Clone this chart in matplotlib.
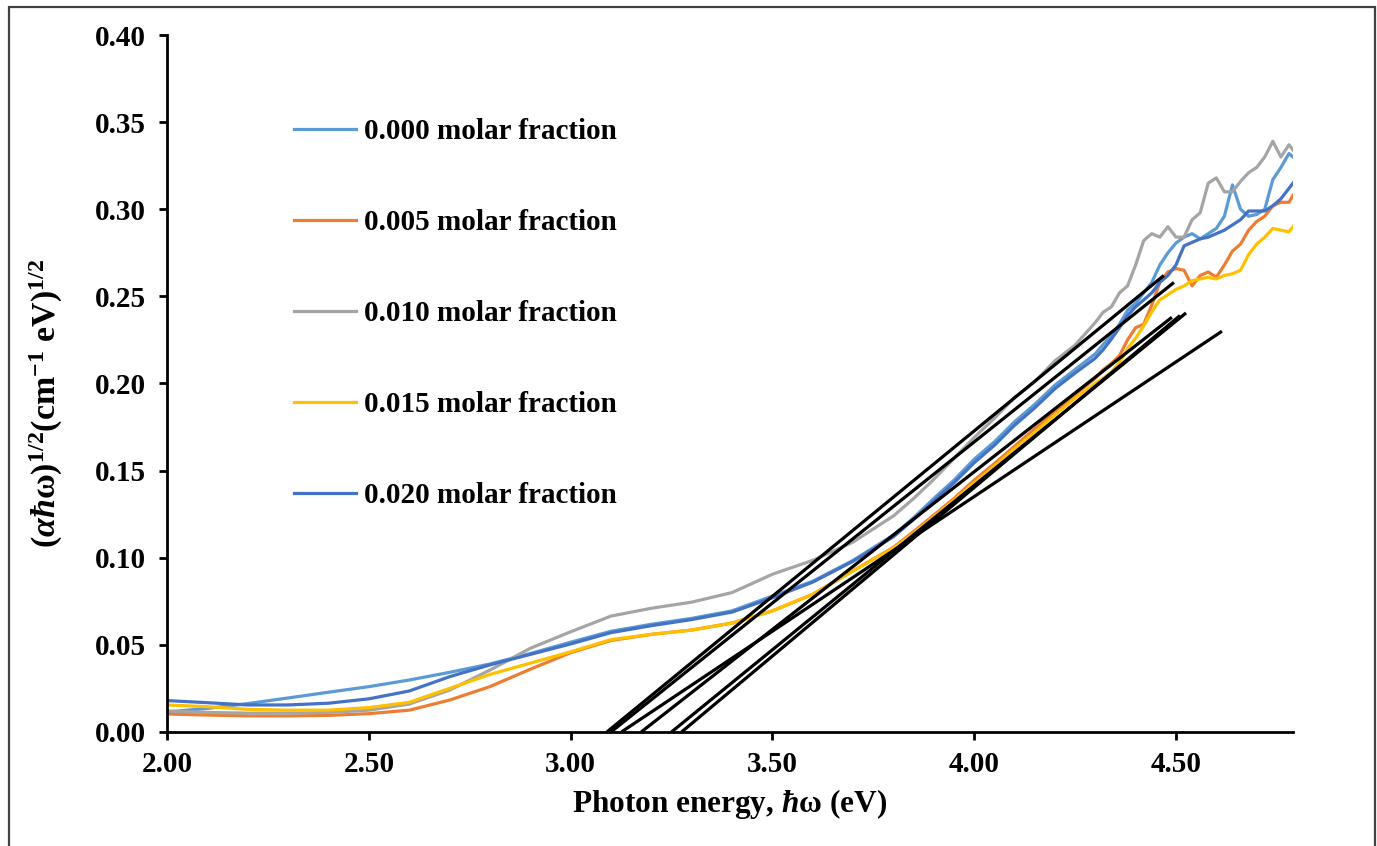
import numpy as np
import matplotlib
matplotlib.use("Agg")
import matplotlib.pyplot as plt
from matplotlib.patches import Rectangle

plt.rcParams['font.family'] = ['Liberation Serif', 'DejaVu Serif']
plt.rcParams['font.weight'] = 'bold'
plt.rcParams['mathtext.fontset'] = 'custom'
plt.rcParams['mathtext.rm'] = 'Liberation Serif:bold'
plt.rcParams['mathtext.it'] = 'Liberation Serif:italic:bold'
plt.rcParams['mathtext.bf'] = 'Liberation Serif:bold'

# photon energy (eV)
energia = [2.00, 2.10, 2.20, 2.30, 2.40, 2.50, 2.60, 2.70, 2.80, 2.90,
           3.00, 3.10, 3.20, 3.30, 3.40, 3.50, 3.60, 3.70, 3.80,
           3.85, 3.90, 3.95, 4.00, 4.05, 4.10, 4.15, 4.20, 4.25, 4.30,
           4.32, 4.34, 4.36, 4.38, 4.40, 4.42, 4.44, 4.46, 4.48, 4.50,
           4.52, 4.54, 4.56, 4.58, 4.60, 4.62, 4.64, 4.66, 4.68, 4.70,
           4.72, 4.74, 4.76, 4.78, 4.79]

# (alpha*hw)^1/2 for each molar fraction
m000 = [0.0115, 0.0135, 0.0163, 0.0195, 0.0228, 0.0260, 0.0298, 0.0342, 0.0390, 0.0450,
        0.0515, 0.0578, 0.0618, 0.0652, 0.0695, 0.0780, 0.0865, 0.0985, 0.1130,
        0.1230, 0.1340, 0.1445, 0.1565, 0.1665, 0.1780, 0.1880, 0.1990, 0.2080, 0.2170,
        0.2225, 0.2275, 0.2340, 0.2420, 0.2460, 0.2520, 0.2580, 0.2680, 0.2750, 0.2806,
        0.2840, 0.2860, 0.2830, 0.2860, 0.2890, 0.2960, 0.3140, 0.3000, 0.2960, 0.2970,
        0.3000, 0.3170, 0.3240, 0.3320, 0.3300]
m005 = [0.0103, 0.0097, 0.0092, 0.0092, 0.0095, 0.0105, 0.0125, 0.0183, 0.0260, 0.0360,
        0.0455, 0.0525, 0.0560, 0.0585, 0.0625, 0.0695, 0.0790, 0.0925, 0.1060,
        0.1150, 0.1245, 0.1340, 0.1445, 0.1540, 0.1640, 0.1740, 0.1840, 0.1935, 0.2030,
        0.2080, 0.2115, 0.2160, 0.2250, 0.2320, 0.2340, 0.2450, 0.2580, 0.2640, 0.2660,
        0.2650, 0.2560, 0.2620, 0.2640, 0.2610, 0.2680, 0.2760, 0.2800, 0.2880, 0.2930,
        0.2960, 0.3020, 0.3040, 0.3040, 0.3080]
m010 = [0.0120, 0.0112, 0.0108, 0.0108, 0.0112, 0.0125, 0.0160, 0.0240, 0.0355, 0.0480,
        0.0575, 0.0665, 0.0710, 0.0745, 0.0800, 0.0905, 0.0985, 0.1090, 0.1240,
        0.1340, 0.1450, 0.1570, 0.1690, 0.1800, 0.1920, 0.2010, 0.2130, 0.2220, 0.2350,
        0.2410, 0.2440, 0.2520, 0.2560, 0.2680, 0.2820, 0.2860, 0.2840, 0.2900, 0.2840,
        0.2840, 0.2940, 0.2980, 0.3150, 0.3180, 0.3100, 0.3100, 0.3160, 0.3210, 0.3240,
        0.3300, 0.3390, 0.3300, 0.3370, 0.3340]
m015 = [0.0155, 0.0145, 0.0130, 0.0125, 0.0125, 0.0140, 0.0170, 0.0250, 0.0330, 0.0395,
        0.0460, 0.0530, 0.0560, 0.0585, 0.0625, 0.0695, 0.0790, 0.0925, 0.1055,
        0.1140, 0.1235, 0.1330, 0.1430, 0.1525, 0.1625, 0.1720, 0.1820, 0.1915, 0.2000,
        0.2030, 0.2065, 0.2120, 0.2200, 0.2260, 0.2330, 0.2410, 0.2480, 0.2510, 0.2540,
        0.2560, 0.2590, 0.2600, 0.2610, 0.2600, 0.2620, 0.2630, 0.2650, 0.2740, 0.2800,
        0.2840, 0.2890, 0.2880, 0.2870, 0.2900]
m020 = [0.0180, 0.0168, 0.0155, 0.0155, 0.0165, 0.0190, 0.0235, 0.0317, 0.0385, 0.0445,
        0.0505, 0.0570, 0.0610, 0.0645, 0.0688, 0.0770, 0.0860, 0.0980, 0.1120,
        0.1220, 0.1325, 0.1430, 0.1545, 0.1645, 0.1760, 0.1860, 0.1970, 0.2060, 0.2145,
        0.2195, 0.2255, 0.2320, 0.2390, 0.2440, 0.2480, 0.2520, 0.2580, 0.2620, 0.2680,
        0.2790, 0.2810, 0.2830, 0.2840, 0.2860, 0.2880, 0.2910, 0.2940, 0.2990, 0.2990,
        0.2990, 0.3020, 0.3060, 0.3120, 0.3150]

etiquetas = ["0.000 molar fraction", "0.005 molar fraction", "0.010 molar fraction",
             "0.015 molar fraction", "0.020 molar fraction"]
colores = ["#5B9BD5", "#ED7D31", "#A5A5A5", "#FFC000", "#4472C4"]

# linear fits: start on the energy axis (Eg), end point of each segment
recta_eg = [3.09, 3.10, 3.126, 3.175, 3.25, 3.275]
recta_x_fin = [4.47, 4.495, 4.614, 4.49, 4.525, 4.51]
recta_y_fin = [0.262, 0.258, 0.230, 0.238, 0.2405, 0.239]

fig = plt.figure(figsize=(13.77, 8.46), dpi=100)
ax = fig.add_axes([0.1213, 0.1348, 0.939 - 0.1213, 0.9586 - 0.1348])

for serie, etiqueta, color in zip([m000, m005, m010, m015, m020], etiquetas, colores):
    ax.plot(energia, serie, color=color, lw=2.3, label=etiqueta, solid_joinstyle='round')

for eg, xf, yf in zip(recta_eg, recta_x_fin, recta_y_fin):
    ax.plot([eg, xf], [0, yf], color='black', lw=2.3, solid_capstyle='butt')

ax.set_xlim(2.0, 4.79)
ax.set_ylim(0.0, 0.40)
ax.set_xticks([2.0, 2.5, 3.0, 3.5, 4.0, 4.5])
ax.set_yticks([0.0, 0.05, 0.10, 0.15, 0.20, 0.25, 0.30, 0.35, 0.40])
ax.xaxis.set_major_formatter(plt.FormatStrFormatter('%.2f'))
ax.yaxis.set_major_formatter(plt.FormatStrFormatter('%.2f'))
ax.tick_params(axis='both', direction='out', length=6, width=2, labelsize=21)
ax.tick_params(axis='x', pad=8)
ax.tick_params(axis='y', pad=9)

for lado in ['top', 'right']:
    ax.spines[lado].set_visible(False)
for lado in ['left', 'bottom']:
    ax.spines[lado].set_linewidth(2)

ax.set_xlabel(r"Photon energy, $\hbar$ω (eV)", fontsize=22.5, fontweight='bold', labelpad=6)
ax.set_ylabel(r"($\alpha\hbar$ω)$^{1/2}$(cm$^{-1}$ eV)$^{1/2}$", fontsize=24.5,
              fontweight='bold')
ax.yaxis.set_label_coords(-0.091, 0.472)

leg = ax.legend(loc='upper left', bbox_to_anchor=(0.102, 0.898), frameon=False,
                fontsize=21, handlelength=2.15, handletextpad=0.25, labelspacing=2.2,
                borderaxespad=0)
for t in leg.get_texts():
    t.set_fontweight('bold')

# outer frame of the picture
fig.patches.append(Rectangle((9 / 1377, -0.1), (1375 - 9) / 1377, 1 - 7 / 846 + 0.1,
                             transform=fig.transFigure, fill=False,
                             edgecolor='#404040', lw=1.6))

fig.savefig("out.png", dpi=100)
